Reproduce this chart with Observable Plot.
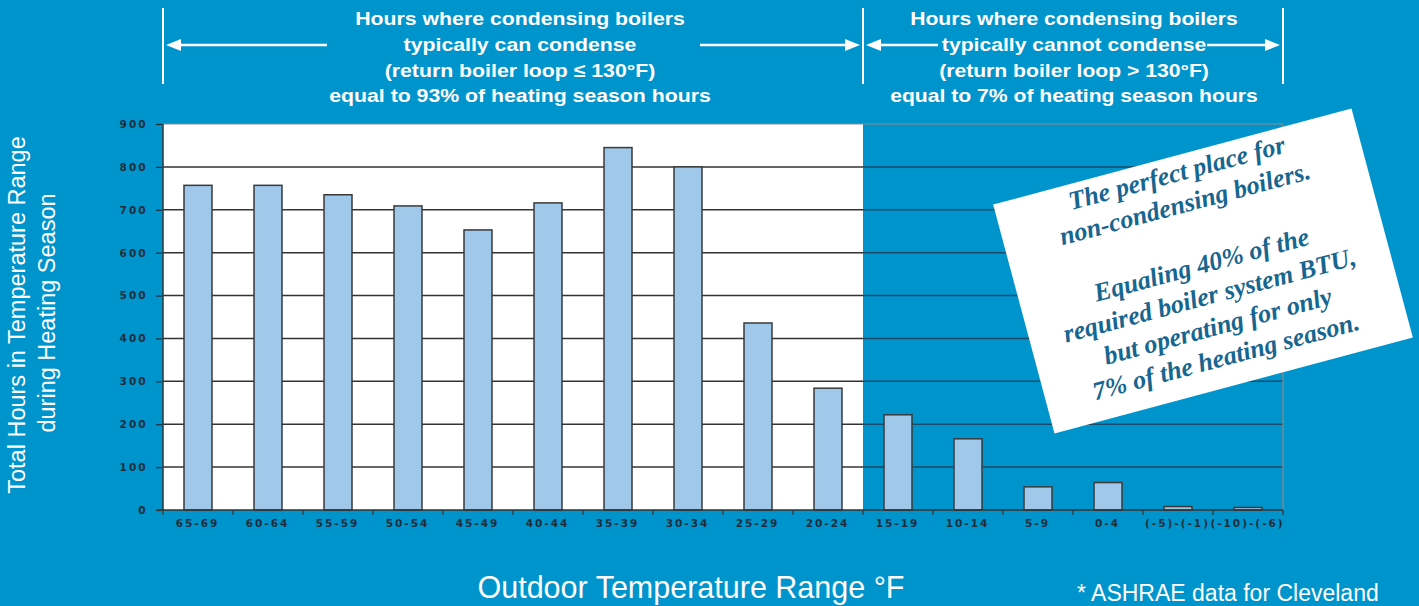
<!DOCTYPE html>
<html><head><meta charset="utf-8">
<script src="https://cdn.jsdelivr.net/npm/d3@7"></script>
<script src="https://cdn.jsdelivr.net/npm/@observablehq/plot@0.6"></script>
<style>
html,body{margin:0;padding:0;background:#0094cc;}
#chart{position:relative;width:1419px;height:606px;overflow:hidden;background:#0094cc;}
#chart svg{position:absolute;left:0;top:0;}
g[aria-label="y-axis tick label"] text, g[aria-label="x-axis tick label"] text{letter-spacing:2px;font-weight:bold;font-size:10.5px;}
</style></head><body><div id="chart"></div>
<script>
// ---- data ----
const ranges = ["65-69","60-64","55-59","50-54","45-49","40-44","35-39","30-34","25-29","20-24","15-19","10-14","5-9","0-4","(-5)-(-1)","(-10)-(-6)"];
const hours  = [757, 757, 735, 709, 653, 716, 845, 800, 436, 284, 222, 166, 54, 64, 8, 6];
const yTicks = [0, 100, 200, 300, 400, 500, 600, 700, 800, 900];
const gridValues = [100, 200, 300, 400, 500, 600, 700, 800];
const yMax = 900;
const splitRange = "15-19";
const leftBlock = ["Hours where condensing boilers", "typically can condense", "(return boiler loop \u2264 130\u00b0F)", "equal to 93% of heating season hours"];
const rightBlock = ["Hours where condensing boilers", "typically cannot condense", "(return boiler loop > 130\u00b0F)", "equal to 7% of heating season hours"];
const yLabel = ["Total Hours in Temperature Range", "during Heating Season"];
const xLabel = "Outdoor Temperature Range \u00b0F";
const caption = "* ASHRAE data for Cleveland";
const noteLines = ["The perfect place for", "non-condensing boilers.", "", "Equaling 40% of the", "required boiler system BTU,", "but operating for only", "7% of the heating season."];

const data = ranges.map((r, i) => ({range: r, hours: hours[i]}));

function edges(x) {
  const gap = (x.step() - x.bandwidth()) / 2;
  const left = x(ranges[0]) - gap;
  const right = x(ranges[ranges.length - 1]) + x.bandwidth() + gap;
  const split = x(splitRange) - gap;
  return {gap, left, right, split};
}

function backdrop(index, {x, y}) {
  const g = d3.create("svg:g");
  const {left, right, split} = edges(x);
  const top = y(yMax), bottom = y(0);
  g.append("rect").attr("x", left).attr("y", top).attr("width", split - left).attr("height", bottom - top).attr("fill", "#fff");
  for (const v of gridValues) {
    g.append("line").attr("x1", left).attr("x2", split).attr("y1", y(v)).attr("y2", y(v)).attr("stroke", "#333").attr("stroke-width", 1.5);
    g.append("line").attr("x1", split).attr("x2", right).attr("y1", y(v)).attr("y2", y(v)).attr("stroke", "#1c4a68").attr("stroke-width", 1.5);
  }
  return g.node();
}

function overlay(index, {x, y}) {
  const g = d3.create("svg:g");
  const {left, right, split, gap} = edges(x);
  const top = y(yMax), bottom = y(0);
  // frame
  g.append("line").attr("x1", left).attr("x2", right).attr("y1", top).attr("y2", top).attr("stroke", "#8c8c8c").attr("stroke-width", 1.2);
  g.append("line").attr("x1", right).attr("x2", right).attr("y1", top).attr("y2", bottom).attr("stroke", "#8c8c8c").attr("stroke-width", 1.2);
  g.append("line").attr("x1", left).attr("x2", left).attr("y1", top).attr("y2", bottom).attr("stroke", "#333").attr("stroke-width", 1.5);
  g.append("line").attr("x1", left - 6).attr("x2", right).attr("y1", bottom).attr("y2", bottom).attr("stroke", "#333").attr("stroke-width", 1.5);
  // x ticks at band boundaries
  const bounds = ranges.map(r => x(r) - gap).concat([right]);
  for (const b of bounds) g.append("line").attr("x1", b).attr("x2", b).attr("y1", bottom).attr("y2", bottom + 5).attr("stroke", "#333").attr("stroke-width", 1.2);

  // top annotation: vertical lines and arrows
  for (const vx of [left, split, right]) g.append("line").attr("x1", vx).attr("x2", vx).attr("y1", 8).attr("y2", 84).attr("stroke", "#fff").attr("stroke-width", 2);
  const ay = 45;
  function arrow(from, tip) {
    const dir = Math.sign(tip - from), L = 15, H = 6;
    g.append("line").attr("x1", from).attr("x2", tip - dir * L + dir).attr("y1", ay).attr("y2", ay).attr("stroke", "#fff").attr("stroke-width", 2.5);
    g.append("path").attr("d", `M${tip},${ay}L${tip - dir * L},${ay - H}L${tip - dir * L},${ay + H}Z`).attr("fill", "#fff");
  }
  arrow(327, left + 3);
  arrow(700, split - 3);
  arrow(938, split + 3);
  arrow(1207, right - 3);
  const baselines = [25, 51, 77, 102];
  leftBlock.forEach((t, i) => g.append("text").attr("transform", `translate(520,${baselines[i]}) scale(1.12,1)`)
    .attr("text-anchor", "middle").attr("font-family", "Liberation Sans, Arial, sans-serif").attr("font-weight", "bold").attr("font-size", 19).attr("fill", "#fff").text(t));
  rightBlock.forEach((t, i) => g.append("text").attr("transform", `translate(1074,${baselines[i]}) scale(1.175,1)`)
    .attr("text-anchor", "middle").attr("font-family", "Liberation Sans, Arial, sans-serif").attr("font-weight", "bold").attr("font-size", 18).attr("fill", "#fff").text(t));

  // axis titles and caption
  g.append("text").attr("transform", "translate(25,315) rotate(-90)").attr("text-anchor", "middle")
    .attr("font-family", "Liberation Sans, Arial, sans-serif").attr("font-size", 23.5).attr("fill", "#fff").text(yLabel[0]);
  g.append("text").attr("transform", "translate(55,313) rotate(-90)").attr("text-anchor", "middle")
    .attr("font-family", "Liberation Sans, Arial, sans-serif").attr("font-size", 23.5).attr("fill", "#fff").text(yLabel[1]);
  g.append("text").attr("x", 691).attr("y", 598).attr("text-anchor", "middle")
    .attr("font-family", "Liberation Sans, Arial, sans-serif").attr("font-size", 30.5).attr("fill", "#fff").text(xLabel);
  g.append("text").attr("x", 1077).attr("y", 601).attr("text-anchor", "start")
    .attr("font-family", "Liberation Sans, Arial, sans-serif").attr("font-size", 23).attr("fill", "#fff").text(caption);

  // rotated note card
  const card = g.append("g").attr("transform", "translate(1203,271) rotate(-15)");
  card.append("rect").attr("x", -185.5).attr("y", -118.5).attr("width", 371).attr("height", 237).attr("fill", "#fff");
  noteLines.forEach((t, i) => card.append("text").attr("x", 0).attr("y", -93 + i * 31.7).attr("text-anchor", "middle")
    .attr("font-family", "Liberation Serif, Times New Roman, serif").attr("font-weight", "bold").attr("font-style", "italic")
    .attr("font-size", 26).attr("fill", "#17668f").text(t));
  return g.node();
}

const plot = Plot.plot({
  width: 1419, height: 606,
  marginLeft: 162, marginRight: 136, marginTop: 124, marginBottom: 96,
  style: {background: "transparent", fontFamily: "DejaVu Sans, sans-serif", overflow: "visible"},
  x: {domain: ranges, paddingInner: 0.6, paddingOuter: 0.3, label: null},
  y: {domain: [0, yMax], label: null},
  marks: [
    backdrop,
    Plot.barY(data, {x: "range", y: "hours", fill: "#a0c8ea", stroke: "#3a3a3a", strokeWidth: 1.5}),
    Plot.axisY({ticks: yTicks, tickSize: 6, tickPadding: 9, fontSize: 10.5, color: "#1d2d3b", label: null, strokeWidth: 1.2}),
    Plot.axisX({tickSize: 0, tickPadding: 9, fontSize: 10.5, color: "#1d2d3b", label: null, dx: -1}),
    overlay
  ]
});
document.getElementById("chart").appendChild(plot);
</script></body></html>
